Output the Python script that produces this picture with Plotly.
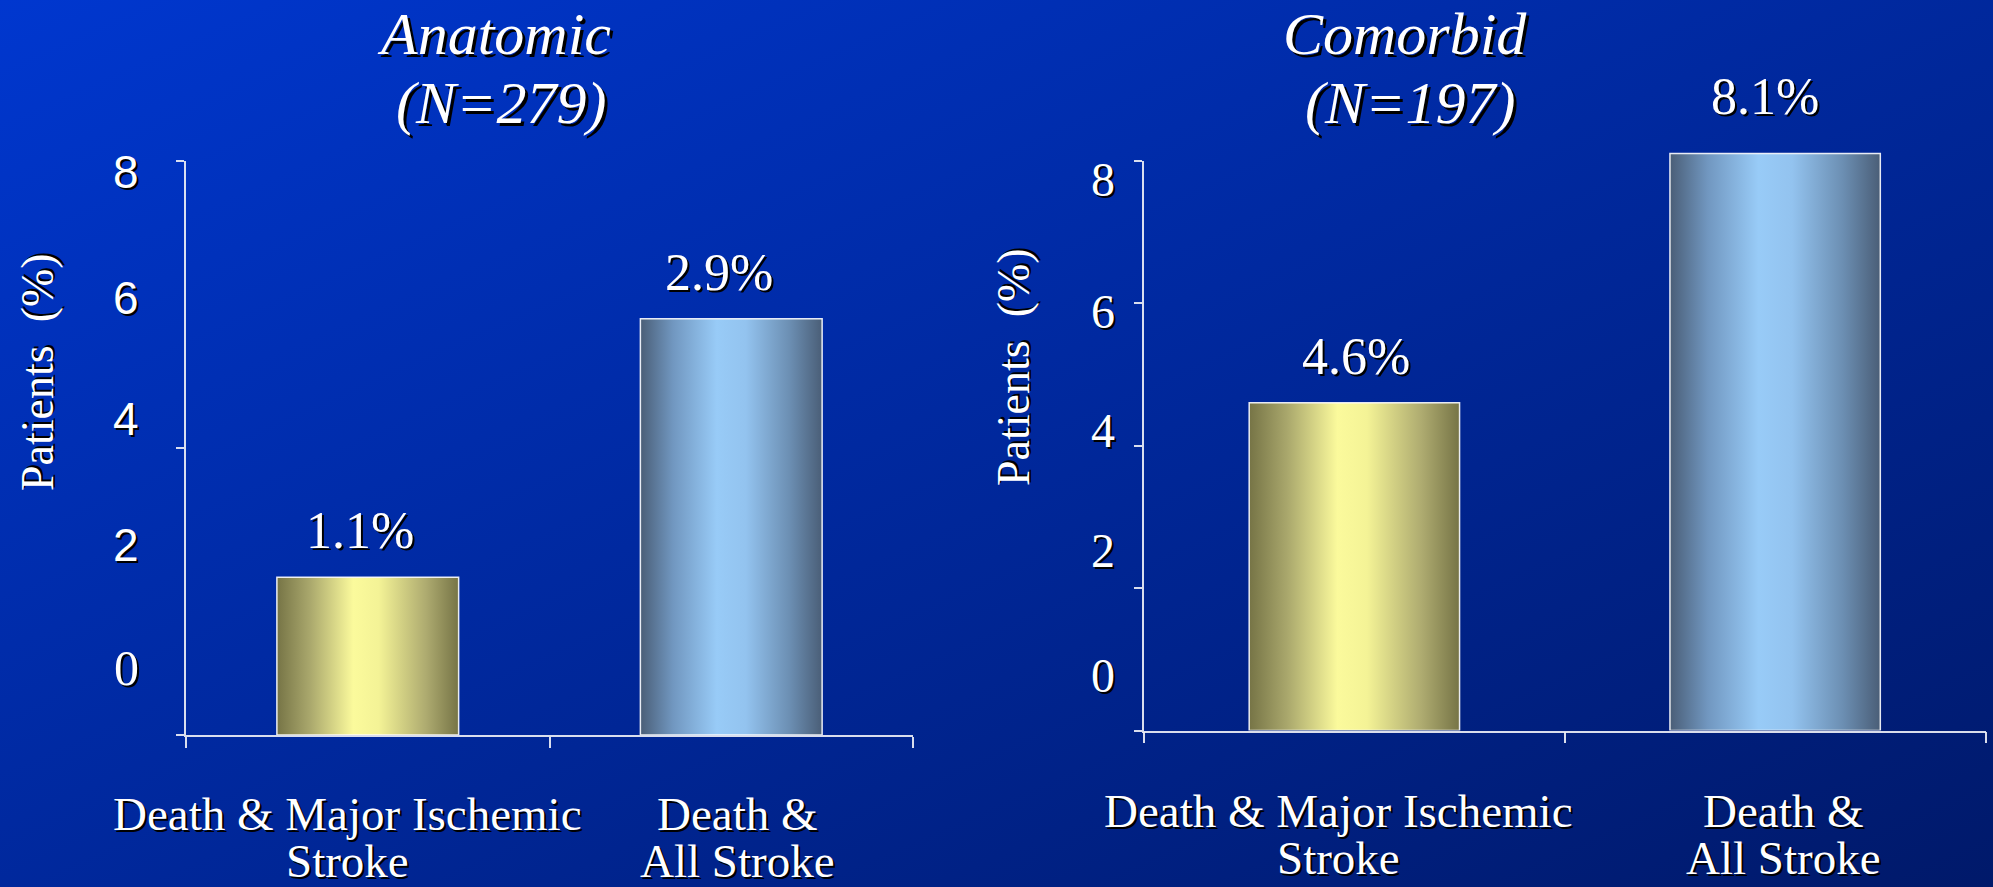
import base64
import plotly.graph_objects as go

W, H = 1993, 887

# ---- data -------------------------------------------------------------
categories = ["Death & Major Ischemic<br>Stroke", "Death &<br>All Stroke"]
anatomic_values = [1.1, 2.9]
comorbid_values = [4.6, 8.1]
anatomic_tick_labels = ["8", "6", "4", "2", "0"]
comorbid_tick_labels = ["8", "6", "4", "2", "0"]
anatomic_title = ["Anatomic", "(N=279)"]
comorbid_title = ["Comorbid", "(N=197)"]
y_title = "Patients\u00a0 (%)"

# ---- styling ----------------------------------------------------------
SERIF = "Liberation Serif, Times New Roman, serif"
SANS = "Liberation Sans, Arial, sans-serif"
WHITE = "#ffffff"
LINE = "rgba(235,238,245,0.92)"
SHADOW = "2px 2px 0px #000000"
BAR_WIDTH = 0.5
BAR_TOP_PX = 90  # top of the (hidden) axis that carries the bars


def px_x(p):
    return p / W


def px_y(p):
    return 1 - p / H


def svg_uri(svg):
    return "data:image/svg+xml;base64," + base64.b64encode(svg.encode()).decode()


def h_gradient(stops):
    s = "".join(f'<stop offset="{o}" stop-color="{c}"/>' for o, c in stops)
    return svg_uri(
        '<svg xmlns="http://www.w3.org/2000/svg" width="100" height="100" '
        'viewBox="0 0 100 100" preserveAspectRatio="none">'
        f'<defs><linearGradient id="g" x1="0" y1="0" x2="1" y2="0">{s}</linearGradient></defs>'
        '<rect width="100" height="100" fill="url(#g)"/></svg>'
    )


background = svg_uri(
    '<svg xmlns="http://www.w3.org/2000/svg" width="100" height="100" '
    'viewBox="0 0 100 100" preserveAspectRatio="none">'
    '<defs><linearGradient id="bg" x1="0" y1="0" x2="1" y2="1">'
    '<stop offset="0" stop-color="#0037cf"/>'
    '<stop offset="1" stop-color="#00196a"/>'
    '</linearGradient></defs>'
    '<rect width="100" height="100" fill="url(#bg)"/></svg>'
)

olive = h_gradient([(0, "#767446"), (0.18, "#a9a76c"), (0.42, "#fbfa9c"),
                    (0.56, "#f4f396"), (0.82, "#aeab70"), (1, "#767446")])
steel = h_gradient([(0, "#4a5e77"), (0.18, "#7197c0"), (0.42, "#98cbf7"),
                    (0.58, "#93c3ef"), (0.82, "#6c8fb3"), (1, "#4a5e77")])
bar_fills = [olive, steel]

panels = [
    dict(values=anatomic_values, tick_labels=anatomic_tick_labels, title=anatomic_title,
         ymax=4, dtick=2, x_px=(186, 913), y_px=(161, 735),
         tick_label_fonts=[SANS, SANS, SANS, SANS, SERIF],
         tick_label_sizes=[46, 46, 46, 46, 50],
         tick_label_frac=[0.981, 0.761, 0.550, 0.331, 0.117], tick_label_x=126,
         title_px=[(494, 34), (501, 103)], ytitle_px=(38, 372),
         cat_mid_px=(814, 861), cat_dx=[-20, 6], value_dx=[-8, -12], value_dy=[17, 17]),
    dict(values=comorbid_values, tick_labels=comorbid_tick_labels, title=comorbid_title,
         ymax=8, dtick=2, x_px=(1144, 1985.5), y_px=(160.6, 730.5),
         tick_label_fonts=[SERIF] * 5,
         tick_label_sizes=[48] * 5,
         tick_label_frac=[0.966, 0.736, 0.527, 0.316, 0.097], tick_label_x=1103,
         title_px=[(1405, 34), (1410, 103)], ytitle_px=(1014, 367),
         cat_mid_px=(811, 858), cat_dx=[-16, 8], value_dx=[2, -10], value_dy=[17, 27]),
]

fig = go.Figure()
layout = {}
annotations = []
images = [dict(source=background, xref="paper", yref="paper", x=0, y=1,
               sizex=1, sizey=1, xanchor="left", yanchor="top",
               sizing="stretch", layer="below")]

for k, p in enumerate(panels):
    n = k + 1
    xid = "x" if n == 1 else f"x{n}"
    yid = "y" if n == 1 else f"y{n}"
    ybid = f"y{n + 2}"
    xkey = "xaxis" if n == 1 else f"xaxis{n}"
    ykey = "yaxis" if n == 1 else f"yaxis{n}"
    ybkey = f"yaxis{n + 2}"

    top_px, bot_px = p["y_px"]
    y0, y1 = px_y(bot_px), px_y(top_px)
    yb1 = px_y(BAR_TOP_PX)
    bar_range_max = p["ymax"] * (bot_px - BAR_TOP_PX) / (bot_px - top_px)

    layout[xkey] = dict(domain=[px_x(p["x_px"][0]), px_x(p["x_px"][1])], anchor=yid,
                        type="category", range=[-0.5, len(categories) - 0.5],
                        tickson="boundaries", ticks="outside", ticklen=11, tickwidth=1.5,
                        tickcolor=LINE, showline=True, linecolor=LINE, linewidth=1.5,
                        showticklabels=False, showgrid=False, zeroline=False, fixedrange=True)
    layout[ykey] = dict(domain=[y0, y1], anchor=xid, range=[0, p["ymax"]],
                        tickmode="linear", tick0=0, dtick=p["dtick"],
                        ticks="outside", ticklen=8, tickwidth=1.5, tickcolor=LINE,
                        showline=True, linecolor=LINE, linewidth=1.5,
                        showticklabels=False, showgrid=False, zeroline=False, fixedrange=True)
    # same scale as the visible axis, extended upward so tall bars are not clipped
    layout[ybkey] = dict(domain=[y0, yb1], anchor=xid, range=[0, bar_range_max],
                         visible=False, fixedrange=True)

    # draws nothing; registers the visible value axis so its line and ticks render
    fig.add_trace(go.Scatter(x=categories, y=[0] * len(categories), xaxis=xid, yaxis=yid,
                             mode="none", hoverinfo="skip", showlegend=False))

    fig.add_trace(go.Bar(
        x=categories, y=p["values"], xaxis=xid, yaxis=ybid, width=BAR_WIDTH,
        marker=dict(color="rgba(0,0,0,0)", line=dict(color="rgba(255,255,255,0.9)", width=1.5)),
        hoverinfo="skip", showlegend=False,
    ))

    for i, v in enumerate(p["values"]):
        images.append(dict(source=bar_fills[i], xref=xid, yref=ybid,
                           x=i - BAR_WIDTH / 2, y=v, sizex=BAR_WIDTH, sizey=v,
                           xanchor="left", yanchor="top", sizing="stretch", layer="below"))
        annotations.append(dict(x=categories[i], y=v, xref=xid, yref=ybid,
                                text=f"{v:.1f}%", showarrow=False, yanchor="bottom",
                                yshift=p["value_dy"][i], xshift=p["value_dx"][i], borderpad=0,
                                font=dict(family=SERIF, size=52, color=WHITE, shadow=SHADOW)))

    # category labels, one annotation per line
    for i, cat in enumerate(categories):
        for j, line in enumerate(cat.split("<br>")):
            annotations.append(dict(x=categories[i], xref=xid, y=px_y(p["cat_mid_px"][j]),
                                    yref="paper", text=line, showarrow=False,
                                    xshift=p["cat_dx"][i], yanchor="middle", borderpad=0,
                                    font=dict(family=SERIF, size=47, color=WHITE, shadow=SHADOW)))

    # value-axis labels
    for lab, frac, fam, sz in zip(p["tick_labels"], p["tick_label_frac"],
                                  p["tick_label_fonts"], p["tick_label_sizes"]):
        annotations.append(dict(x=px_x(p["tick_label_x"]), xref="paper",
                                y=y0 + frac * (y1 - y0), yref="paper", borderpad=0,
                                text=lab, showarrow=False, xanchor="center", yanchor="middle",
                                font=dict(family=fam, size=sz, color=WHITE, shadow=SHADOW)))

    # axis title
    annotations.append(dict(x=px_x(p["ytitle_px"][0]), y=px_y(p["ytitle_px"][1]),
                            xref="paper", yref="paper", text=y_title, textangle=-90,
                            showarrow=False, xanchor="center", yanchor="middle", borderpad=0,
                            font=dict(family=SERIF, size=46, color=WHITE, shadow=SHADOW)))

    # panel heading
    for line, (tx, ty) in zip(p["title"], p["title_px"]):
        annotations.append(dict(x=px_x(tx), y=px_y(ty), xref="paper", yref="paper",
                                text=line, showarrow=False, xanchor="center", yanchor="middle",
                                borderpad=0,
                                font=dict(family=SERIF, size=60, color=WHITE, style="italic",
                                          shadow="3px 3px 0px #000000")))

fig.update_layout(
    width=W, height=H,
    margin=dict(l=0, r=0, t=0, b=0),
    paper_bgcolor="#00279d", plot_bgcolor="rgba(0,0,0,0)",
    annotations=annotations, images=images,
    showlegend=False,
    **layout,
)

fig.write_html("out.html", config=dict(displayModeBar=False))
